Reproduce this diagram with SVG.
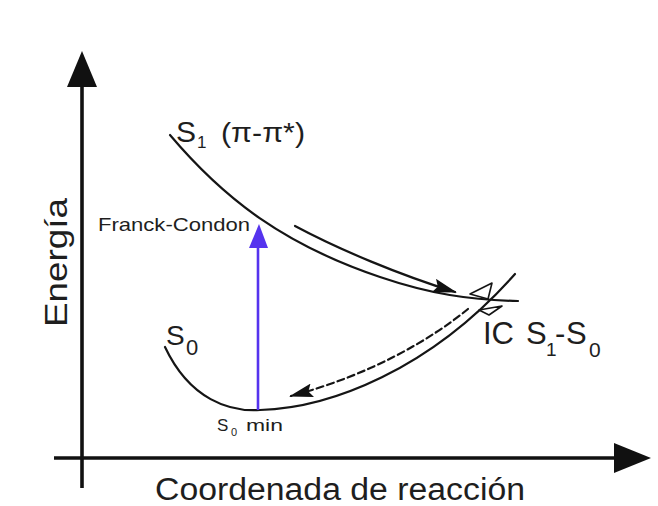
<svg xmlns="http://www.w3.org/2000/svg" width="658" height="506" viewBox="0 0 658 506">
<style>
text{font-family:"Liberation Sans",Arial,sans-serif;fill:#1e1e1e}
.curve{fill:none;stroke:#151515;stroke-width:2.2;stroke-linecap:round}
.axis{fill:none;stroke:#111;stroke-width:3.6}
.ah{fill:#111}
.cone{fill:none;stroke:#151515;stroke-width:1.6;stroke-linejoin:round}
</style>
<defs>
<marker id="arr" markerUnits="userSpaceOnUse" markerWidth="24" markerHeight="14" refX="22" refY="7" orient="auto">
<path d="M0,0 L24,7 L0,14 L4,7 Z" fill="#111"/>
</marker>
</defs>
<rect width="658" height="506" fill="#fff"/>
<g id="axes">
<line class="axis" x1="82" y1="488" x2="82" y2="80"/>
<polygon class="ah" points="82,51 67,87 97,87"/>
<line class="axis" x1="54" y1="458" x2="620" y2="458"/>
<polygon class="ah" points="651,458 614,443 614,473"/>
<text x="155" y="500" font-size="31" textLength="370" lengthAdjust="spacingAndGlyphs">Coordenada de reacción</text>
<text transform="translate(67,327) rotate(-90)" font-size="31" textLength="129" lengthAdjust="spacingAndGlyphs">Energía</text>
</g>
<g id="S1">
<path class="curve" d="M170,135 C225,200 285,245 380,277 C430,294 470,300 518,301"/>
<text x="176" y="142" font-size="30">S</text>
<text x="197" y="148" font-size="17">1</text>
<text x="221" y="142" font-size="28" textLength="84" lengthAdjust="spacingAndGlyphs">(π-π*)</text>
</g>
<g id="S0">
<path class="curve" d="M165,347 C190,400 230,412 260,410 C330,408 430,370 515,274"/>
<text x="166" y="345" font-size="28">S</text>
<text x="186" y="355" font-size="22">0</text>
</g>
<g id="franck-condon">
<text x="98" y="231" font-size="19" textLength="152" lengthAdjust="spacingAndGlyphs">Franck-Condon</text>
</g>
<g id="s0-min">
<text x="217" y="431" font-size="17">S</text>
<text x="231" y="436" font-size="11">0</text>
<text x="246" y="431" font-size="17" textLength="37" lengthAdjust="spacingAndGlyphs">min</text>
</g>
<g id="ic">
<path class="cone" d="M470,294 L492,283 L488,299 Z"/>
<path class="cone" d="M479,310 L502,306 L489,315 Z"/>
<text x="483" y="344" font-size="31">IC</text>
<text x="526" y="344" font-size="31">S</text>
<text x="546" y="356" font-size="19">1</text>
<text x="555" y="344" font-size="31">-</text>
<text x="566" y="344" font-size="31">S</text>
<text x="589" y="357" font-size="21">0</text>
</g>
<g id="connectors">
<line x1="258" y1="410" x2="258" y2="244" stroke="#5533ee" stroke-width="2.6"/>
<polygon points="259,224 249,248 268,248" fill="#5533ee"/>
<path class="curve" d="M295,226 C340,250 400,275 455,292" marker-end="url(#arr)"/>
<path class="curve" d="M468,309 C430,340 370,375 291,396" stroke-dasharray="7,4" marker-end="url(#arr)"/>
</g>
</svg>
